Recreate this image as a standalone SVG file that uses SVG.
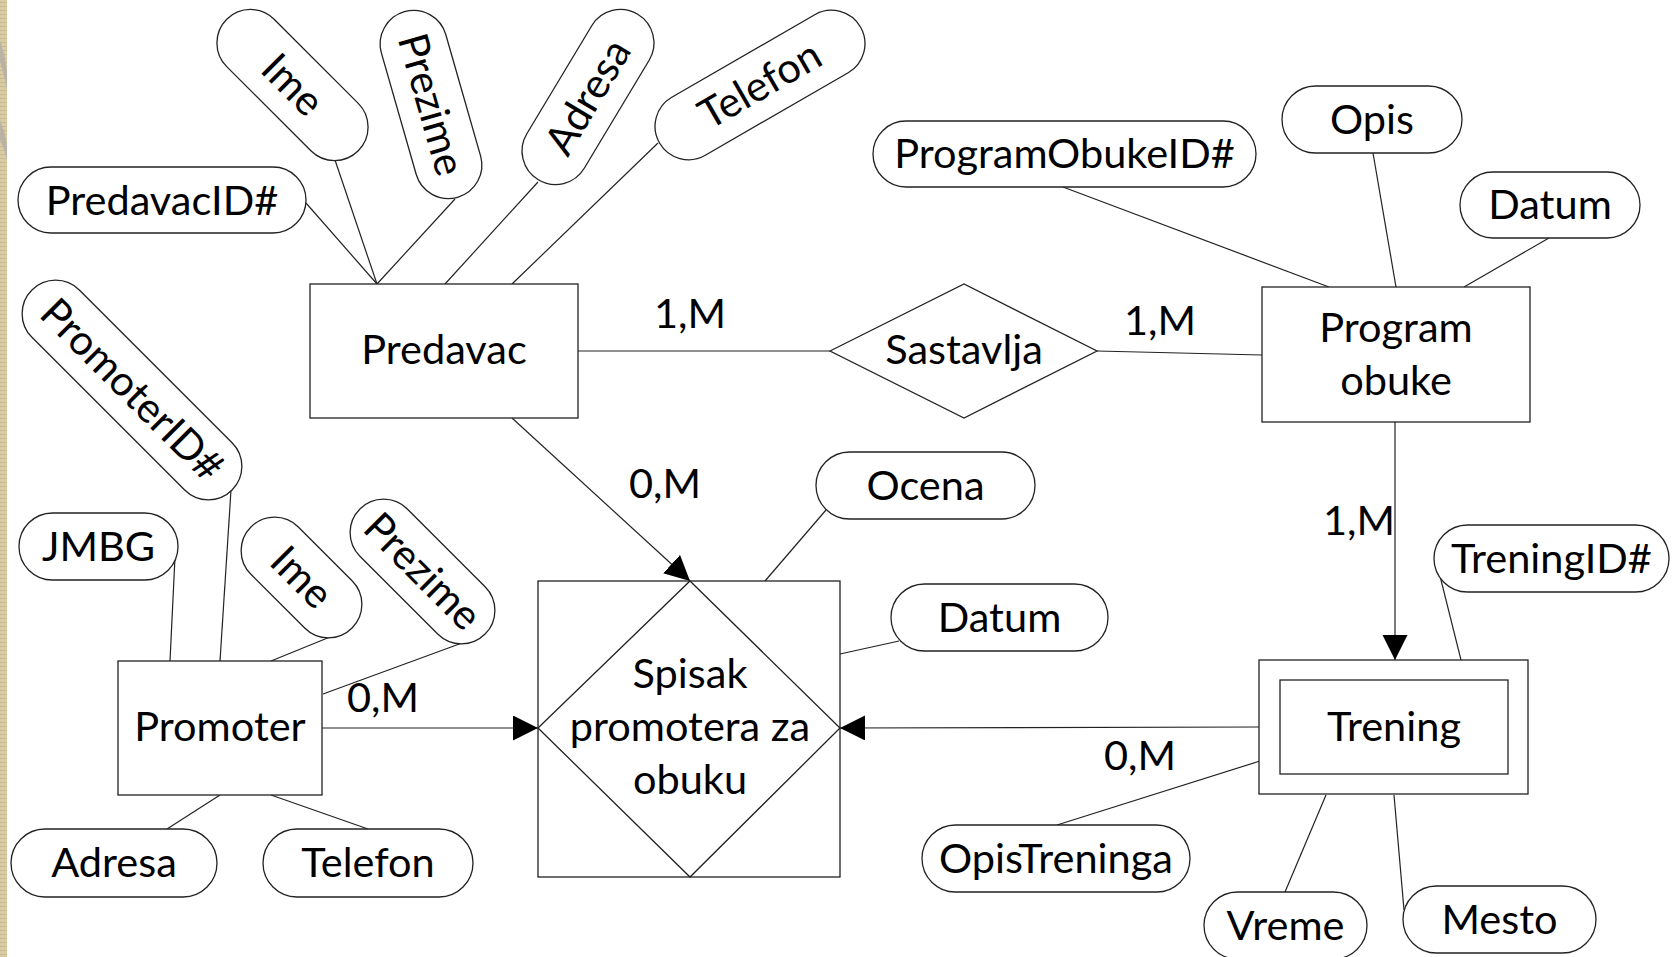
<svg xmlns="http://www.w3.org/2000/svg" width="1674" height="957" viewBox="0 0 1674 957">
  <style>
    .shape { fill: #ffffff; stroke: #222222; stroke-width: 1.3; }
    .conn { fill: none; stroke: #222222; stroke-width: 1.2; }
    .txt { font-family: Lato, "Open Sans", "Liberation Sans", sans-serif; font-size: 41.5px; fill: #000000; text-anchor: middle; }
  </style>
  <defs>
    <marker id="arrow" markerUnits="userSpaceOnUse" markerWidth="26" markerHeight="26" refX="25" refY="12.5" orient="auto">
      <path d="M0,0 L25,12.5 L0,25 Z" fill="#000000"/>
    </marker>
    <pattern id="weave" width="7" height="4" patternUnits="userSpaceOnUse">
      <rect width="7" height="4" fill="#d9cca4"/>
      <rect y="2" width="7" height="1" fill="#c9b98b"/>
    </pattern>
  </defs>

  <!-- page background and decorative edge -->
  <rect width="1674" height="957" fill="#ffffff"/>
  <rect x="0" y="0" width="7" height="957" fill="url(#weave)"/>
  <path d="M0,40 Q5,55 7,70 L7,90 Q3,70 0,62 Z" fill="#b9b3a5"/>
  <path d="M0,120 Q5,132 7,145 L7,160 Q3,145 0,140 Z" fill="#b9b3a5"/>

  <!-- connectors -->
  <g id="connectors">
    <line class="conn" x1="306" y1="203" x2="377" y2="284"/>
    <line class="conn" x1="335" y1="160" x2="377" y2="284"/>
    <line class="conn" x1="455" y1="199" x2="377" y2="284"/>
    <line class="conn" x1="538" y1="182" x2="445" y2="284"/>
    <line class="conn" x1="658" y1="143" x2="512" y2="284"/>
    <line class="conn" x1="578" y1="351" x2="830" y2="351"/>
    <line class="conn" x1="1097" y1="351" x2="1262" y2="355"/>
    <line class="conn" x1="1063" y1="187" x2="1329" y2="287"/>
    <line class="conn" x1="1373" y1="153" x2="1396" y2="287"/>
    <line class="conn" x1="1549" y1="238" x2="1464" y2="287"/>
    <line class="conn" x1="1395" y1="422" x2="1395" y2="660" marker-end="url(#arrow)"/>
    <line class="conn" x1="1439" y1="572" x2="1461" y2="660"/>
    <line class="conn" x1="1259" y1="727" x2="840" y2="728" marker-end="url(#arrow)"/>
    <line class="conn" x1="1260" y1="761" x2="1057" y2="825"/>
    <line class="conn" x1="1326" y1="795" x2="1285" y2="892"/>
    <line class="conn" x1="1394" y1="795" x2="1404" y2="910"/>
    <line class="conn" x1="512" y1="418" x2="690" y2="581" marker-end="url(#arrow)"/>
    <line class="conn" x1="826" y1="510" x2="765" y2="581"/>
    <line class="conn" x1="899" y1="641" x2="840" y2="654"/>
    <line class="conn" x1="322" y1="728" x2="538" y2="728" marker-end="url(#arrow)"/>
    <line class="conn" x1="231" y1="490" x2="220" y2="661"/>
    <line class="conn" x1="175" y1="557" x2="170" y2="661"/>
    <line class="conn" x1="330" y1="637" x2="271" y2="661"/>
    <line class="conn" x1="462" y1="643" x2="323" y2="694"/>
    <line class="conn" x1="220" y1="795" x2="167" y2="829"/>
    <line class="conn" x1="271" y1="795" x2="368" y2="829"/>
  </g>

  <!-- cardinality labels -->
  <g id="labels">
    <text class="txt" x="690" y="328">1,M</text>
    <text class="txt" x="1160" y="335">1,M</text>
    <text class="txt" x="665" y="498">0,M</text>
    <text class="txt" x="1359" y="535">1,M</text>
    <text class="txt" x="383" y="712">0,M</text>
    <text class="txt" x="1140" y="770">0,M</text>
  </g>

  <!-- entity: Predavac -->
  <g id="predavac">
    <rect class="shape" x="310" y="284" width="268" height="134"/>
    <text class="txt" x="444" y="364">Predavac</text>
  </g>
  <g id="predavac-id">
    <rect class="shape" x="18" y="167" width="288" height="66" rx="33"/>
    <text class="txt" x="162" y="215">PredavacID#</text>
  </g>
  <g id="predavac-ime" transform="translate(292.5,85) rotate(45)">
    <rect class="shape" x="-93" y="-33.5" width="186" height="67" rx="33.5"/>
    <text class="txt" x="0" y="14">Ime</text>
  </g>
  <g id="predavac-prezime" transform="translate(431,104.5) rotate(74)">
    <rect class="shape" x="-96.5" y="-33.5" width="193" height="67" rx="33.5"/>
    <text class="txt" x="0" y="14">Prezime</text>
  </g>
  <g id="predavac-adresa" transform="translate(588,97) rotate(-59)">
    <rect class="shape" x="-96.5" y="-33.5" width="193" height="67" rx="33.5"/>
    <text class="txt" x="0" y="14">Adresa</text>
  </g>
  <g id="predavac-telefon" transform="translate(760,85) rotate(-30)">
    <rect class="shape" x="-116" y="-33.5" width="232" height="67" rx="33.5"/>
    <text class="txt" x="0" y="14">Telefon</text>
  </g>

  <!-- relationship: Sastavlja -->
  <g id="sastavlja">
    <polygon class="shape" points="830,351 964,284 1097,351 964,418"/>
    <text class="txt" x="964" y="364">Sastavlja</text>
  </g>

  <!-- entity: Program obuke -->
  <g id="program-obuke">
    <rect class="shape" x="1262" y="287" width="268" height="135"/>
    <text class="txt" x="1396" y="342">Program</text>
    <text class="txt" x="1396" y="395">obuke</text>
  </g>
  <g id="program-obuke-id">
    <rect class="shape" x="873" y="121" width="383" height="66" rx="33"/>
    <text class="txt" x="1064.5" y="168">ProgramObukeID#</text>
  </g>
  <g id="program-opis">
    <rect class="shape" x="1282" y="86" width="180" height="67" rx="33.5"/>
    <text class="txt" x="1372" y="134">Opis</text>
  </g>
  <g id="program-datum">
    <rect class="shape" x="1460" y="172" width="180" height="66" rx="33"/>
    <text class="txt" x="1550" y="219">Datum</text>
  </g>

  <!-- weak entity: Trening -->
  <g id="trening">
    <rect class="shape" x="1259" y="660" width="269" height="134"/>
    <rect class="shape" x="1280" y="680" width="228" height="94"/>
    <text class="txt" x="1394" y="741">Trening</text>
  </g>
  <g id="trening-id">
    <rect class="shape" x="1434" y="525" width="235" height="67" rx="33.5"/>
    <text class="txt" x="1551.5" y="573">TreningID#</text>
  </g>
  <g id="trening-opis">
    <rect class="shape" x="922" y="825" width="268" height="67" rx="33.5"/>
    <text class="txt" x="1056" y="873">OpisTreninga</text>
  </g>
  <g id="trening-vreme">
    <rect class="shape" x="1204" y="892" width="163" height="67" rx="33.5"/>
    <text class="txt" x="1285.5" y="940">Vreme</text>
  </g>
  <g id="trening-mesto">
    <rect class="shape" x="1403" y="886" width="193" height="67" rx="33.5"/>
    <text class="txt" x="1499.5" y="934">Mesto</text>
  </g>

  <!-- associative entity: Spisak promotera za obuku -->
  <g id="spisak">
    <rect class="shape" x="538" y="581" width="302" height="296"/>
    <polygon class="shape" points="690,581 840,728 690,877 538,728"/>
    <text class="txt" x="690" y="688">Spisak</text>
    <text class="txt" x="690" y="741">promotera za</text>
    <text class="txt" x="690" y="794">obuku</text>
  </g>
  <g id="spisak-ocena">
    <rect class="shape" x="816" y="452" width="219" height="67" rx="33.5"/>
    <text class="txt" x="925.5" y="500">Ocena</text>
  </g>
  <g id="spisak-datum">
    <rect class="shape" x="891" y="584" width="217" height="67" rx="33.5"/>
    <text class="txt" x="999.5" y="632">Datum</text>
  </g>

  <!-- entity: Promoter -->
  <g id="promoter">
    <rect class="shape" x="118" y="661" width="204" height="134"/>
    <text class="txt" x="220" y="741">Promoter</text>
  </g>
  <g id="promoter-id" transform="translate(132,390) rotate(45)">
    <rect class="shape" x="-141.5" y="-33.5" width="283" height="67" rx="33.5"/>
    <text class="txt" x="0" y="14">PromoterID#</text>
  </g>
  <g id="promoter-jmbg">
    <rect class="shape" x="19" y="513" width="159" height="67" rx="33.5"/>
    <text class="txt" x="98.5" y="561">JMBG</text>
  </g>
  <g id="promoter-ime" transform="translate(301.5,577.5) rotate(45)">
    <rect class="shape" x="-71.5" y="-33.5" width="143" height="67" rx="33.5"/>
    <text class="txt" x="0" y="14">Ime</text>
  </g>
  <g id="promoter-prezime" transform="translate(422.5,571.5) rotate(45)">
    <rect class="shape" x="-88.5" y="-33.5" width="177" height="67" rx="33.5"/>
    <text class="txt" x="0" y="14">Prezime</text>
  </g>
  <g id="promoter-adresa">
    <rect class="shape" x="11" y="829" width="206" height="68" rx="34"/>
    <text class="txt" x="114" y="877">Adresa</text>
  </g>
  <g id="promoter-telefon">
    <rect class="shape" x="263" y="829" width="210" height="68" rx="34"/>
    <text class="txt" x="368" y="877">Telefon</text>
  </g>
</svg>
